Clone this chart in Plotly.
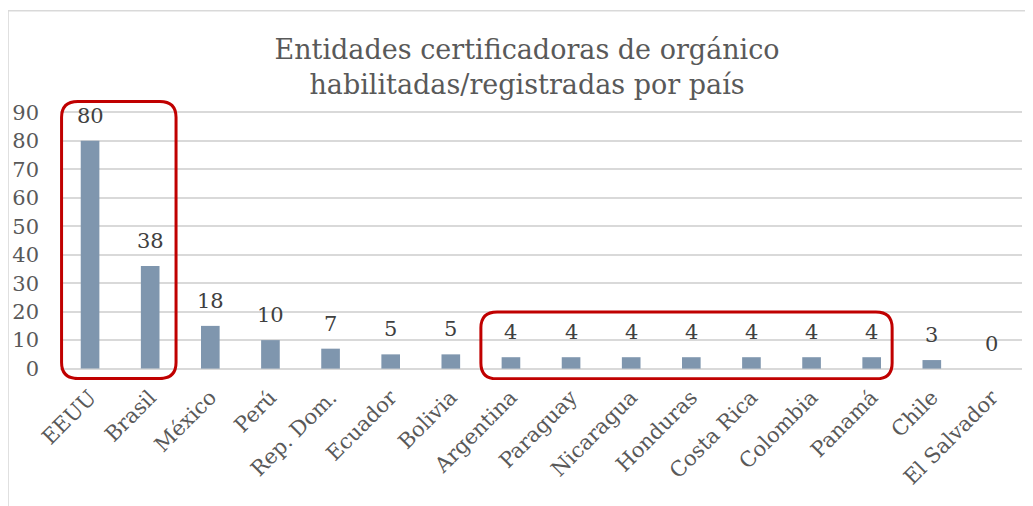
import plotly.graph_objects as go

categories = ["EEUU", "Brasil", "México", "Perú", "Rep. Dom.", "Ecuador", "Bolivia",
              "Argentina", "Paraguay", "Nicaragua", "Honduras", "Costa Rica",
              "Colombia", "Panamá", "Chile", "El Salvador"]
bar_values = [80, 36, 15, 10, 7, 5, 5, 4, 4, 4, 4, 4, 4, 4, 3, 0]
label_texts = ["80", "38", "18", "10", "7", "5", "5", "4", "4", "4", "4", "4",
               "4", "4", "3", "0"]
y_ticks = [0, 10, 20, 30, 40, 50, 60, 70, 80, 90]

FONT = "DejaVu Serif"
x_idx = list(range(len(categories)))

fig = go.Figure()
fig.add_trace(go.Bar(
    x=x_idx, y=bar_values, width=0.31,
    marker=dict(color="#7f96ae", line=dict(width=0)),
    hoverinfo="skip",
))

annotations = []
for xi, v, t in zip(x_idx, bar_values, label_texts):
    annotations.append(dict(
        x=xi, y=v, xref="x", yref="y", text=t, showarrow=False,
        yanchor="middle", yshift=25,
        font=dict(family=FONT, size=21, color="#404040"),
    ))


def rounded_rect(x0, y0, x1, y1, rx, ry):
    return (f"M {x0+rx},{y0} L {x1-rx},{y0} Q {x1},{y0} {x1},{y0+ry} "
            f"L {x1},{y1-ry} Q {x1},{y1} {x1-rx},{y1} "
            f"L {x0+rx},{y1} Q {x0},{y1} {x0},{y1-ry} "
            f"L {x0},{y0+ry} Q {x0},{y0} {x0+rx},{y0} Z")

rx, ry = 0.27, 5.6
shapes = [
    dict(type="path", xref="x", yref="y",
         path=rounded_rect(-0.474, -3.5, 1.43, 93.8, rx, ry),
         line=dict(color="#c00000", width=3), layer="above"),
    dict(type="path", xref="x", yref="y",
         path=rounded_rect(6.50, -3.6, 13.34, 19.9, rx, ry),
         line=dict(color="#c00000", width=3), layer="above"),
    dict(type="rect", xref="paper", yref="paper",
         x0=-0.054, x1=1.03, y0=-0.6, y1=1.309,
         line=dict(color="#d9d9d9", width=1.5), layer="below"),
]

# page body adds an 8px offset; margins compensate
fig.update_layout(
    width=1033, height=506,
    margin=dict(l=52, r=19, t=90, b=134),
    paper_bgcolor="white", plot_bgcolor="white",
    showlegend=False,
    title=dict(
        text="Entidades certificadoras de orgánico<br>habilitadas/registradas por país",
        x=0.4855, xref="paper", xanchor="center",
        y=0.90, yref="container", yanchor="top",
        font=dict(family=FONT, size=27, color="#595959"),
    ),
    xaxis=dict(
        range=[-0.5, 15.5], tickmode="array", tickvals=x_idx, ticktext=categories,
        tickangle=-45, showgrid=False, zeroline=False, showline=False,
        ticks="", tickfont=dict(family=FONT, size=21, color="#595959"),
        automargin=False,
    ),
    yaxis=dict(
        range=[-4, 95], tickmode="array", tickvals=y_ticks,
        showgrid=True, gridcolor="#d9d9d9", gridwidth=1.5,
        zeroline=False, showline=False, ticks="",
        ticklabelstandoff=20, automargin=False,
        tickfont=dict(family=FONT, size=21, color="#595959"),
    ),
    shapes=shapes,
    annotations=annotations,
)

fig.write_html("out.html")
